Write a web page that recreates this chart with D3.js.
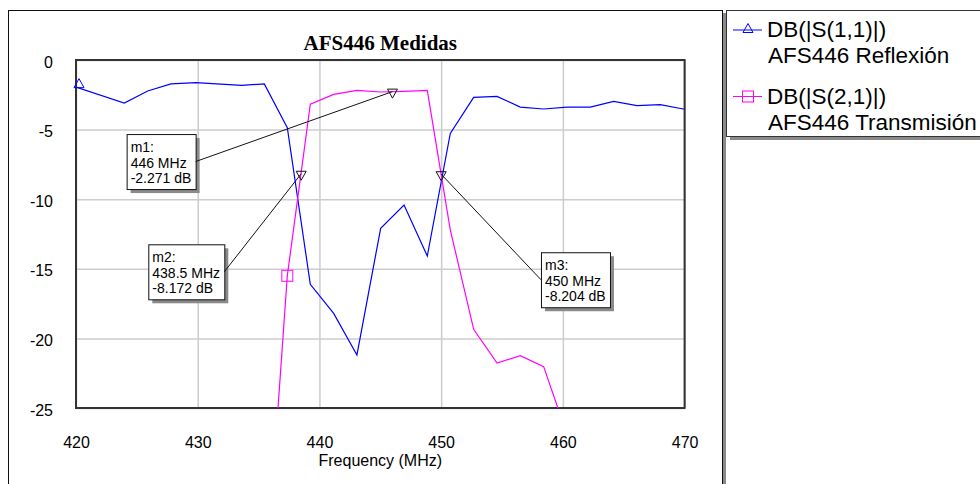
<!DOCTYPE html>
<html>
<head>
<meta charset="utf-8">
<script src="https://cdn.jsdelivr.net/npm/d3@7"></script>
<style>
  body { margin: 0; background: #fff; }
  svg { display: block; font-family: Arial, "Liberation Sans", sans-serif; }
</style>
</head>
<body>
<script>
// S11 (reflexion) trace
const freqS11 = [420.0, 423.97, 425.89, 427.8, 429.86, 433.6, 435.47, 437.36, 439.25, 441.17,
                 443.08, 445.03, 446.95, 448.86, 450.75, 452.67, 454.59, 456.5, 458.42, 460.34,
                 462.25, 464.17, 466.09, 468.0, 470.0];
const dbS11 = [-1.95, -3.09, -2.23, -1.72, -1.63, -1.82, -1.72, -4.86, -16.11, -18.2,
               -21.19, -12.09, -10.42, -14.08, -5.27, -2.68, -2.61, -3.38, -3.52, -3.38,
               -3.38, -2.97, -3.28, -3.21, -3.54];

// S21 (transmision) trace, ends run below the -25 dB floor
const freqS21 = [435.47, 437.36, 439.25, 441.17, 443.08, 445.03, 446.95, 448.86, 450.75, 452.67,
                 454.59, 456.5, 458.42, 460.34];
const dbS21 = [-39, -15.5, -3.18, -2.47, -2.18, -2.3, -2.25, -2.18, -12.2, -19.35,
               -21.77, -21.24, -22.03, -26.9];

const xTicks = [420, 430, 440, 450, 460, 470];
const yTicks = [0, -5, -10, -15, -20, -25];

const markerNames = ['m1', 'm2', 'm3'];
const markerFreq = [446, 438.5, 450];
const markerDb = [-2.271, -8.172, -8.204];

const legendTop = ['DB(|S(1,1)|)', 'DB(|S(2,1)|)'];
const legendBottom = ['AFS446 Reflexión', 'AFS446 Transmisión'];
const title = 'AFS446 Medidas';
const xTitle = 'Frequency (MHz)';

// layout
const W = 980, H = 484;
const plot = { left: 76, right: 684.6, top: 60, bottom: 408 };
const colors = ['#0000ff', '#ff00ff'];
// top-left corner of each marker label box, in data units
const labelAt = [[424.16, -5.32], [425.94, -13.24], [458.2, -13.81]];

const x = d3.scaleLinear().domain([420, 470]).range([plot.left, plot.right]);
const y = d3.scaleLinear().domain([-25, 0]).range([plot.bottom, plot.top]);

const svg = d3.select('body').append('svg')
  .attr('width', W)
  .attr('height', H);

// outer frame with its shadow
svg.append('rect')
  .attr('x', 723).attr('y', 13).attr('width', 3).attr('height', H)
  .attr('fill', '#8a8a8a');
svg.append('rect')
  .attr('x', 8.5).attr('y', 10.5).attr('width', 714).attr('height', H)
  .attr('fill', 'none').attr('stroke', '#111').attr('stroke-width', 1);

// gridlines
svg.append('g')
  .attr('transform', `translate(0, ${plot.bottom})`)
  .call(d3.axisBottom(x).tickValues(xTicks).tickSize(-(plot.bottom - plot.top)).tickFormat(''))
  .call(g => g.select('.domain').remove())
  .call(g => g.selectAll('line').attr('stroke', '#cccccc').attr('stroke-width', 1.5));
svg.append('g')
  .attr('transform', `translate(${plot.left}, 0)`)
  .call(d3.axisLeft(y).tickValues(yTicks).tickSize(-(plot.right - plot.left)).tickFormat(''))
  .call(g => g.select('.domain').remove())
  .call(g => g.selectAll('line').attr('stroke', '#cccccc').attr('stroke-width', 1.5));

// tick labels
svg.append('g')
  .attr('transform', `translate(0, ${plot.bottom + 26})`)
  .call(d3.axisBottom(x).tickValues(xTicks).tickSize(0).tickFormat(d3.format('d')))
  .call(g => g.select('.domain').remove())
  .call(g => g.selectAll('text').attr('font-size', 16).attr('fill', '#000')
    .attr('font-family', 'Arial, "Liberation Sans", sans-serif'));
svg.append('g')
  .attr('transform', `translate(${plot.left - 20}, 2)`)
  .call(d3.axisLeft(y).tickValues(yTicks).tickSize(0).tickFormat(d => d === 0 ? '0' : '-' + Math.abs(d)))
  .call(g => g.select('.domain').remove())
  .call(g => g.selectAll('text').attr('font-size', 16).attr('fill', '#000')
    .attr('font-family', 'Arial, "Liberation Sans", sans-serif'));

// plot border
svg.append('rect')
  .attr('x', plot.left).attr('y', plot.top)
  .attr('width', plot.right - plot.left).attr('height', plot.bottom - plot.top)
  .attr('fill', 'none').attr('stroke', '#333').attr('stroke-width', 2);

// titles
svg.append('text')
  .attr('x', (plot.left + plot.right) / 2).attr('y', 50)
  .attr('text-anchor', 'middle')
  .attr('font-family', '"Liberation Serif", "Times New Roman", serif')
  .attr('font-weight', 'bold').attr('font-size', 21)
  .text(title);
svg.append('text')
  .attr('x', (plot.left + plot.right) / 2).attr('y', 466)
  .attr('text-anchor', 'middle').attr('font-size', 16)
  .text(xTitle);

// traces
svg.append('clipPath').attr('id', 'clip')
  .append('rect')
  .attr('x', plot.left).attr('y', plot.top)
  .attr('width', plot.right - plot.left).attr('height', plot.bottom - plot.top);

const line = d3.line().x(d => x(d[0])).y(d => y(d[1]));
const s11 = freqS11.map((f, i) => [f, dbS11[i]]);
const s21 = freqS21.map((f, i) => [f, dbS21[i]]);

const traces = svg.append('g').attr('clip-path', 'url(#clip)');
traces.append('path').datum(s11)
  .attr('d', line).attr('fill', 'none').attr('stroke', colors[0]).attr('stroke-width', 1.2);
traces.append('path').datum(s21)
  .attr('d', line).attr('fill', 'none').attr('stroke', colors[1]).attr('stroke-width', 1.2);

function triangle(cx, cy, s) {
  return `M${cx},${cy - s * 0.55}L${cx + s / 2},${cy + s * 0.35}L${cx - s / 2},${cy + s * 0.35}Z`;
}
// trace symbols
svg.append('path')
  .attr('d', triangle(x(s11[0][0]) + 3, y(s11[0][1]) - 3, 10))
  .attr('fill', 'none').attr('stroke', colors[0]).attr('stroke-width', 1);
svg.append('rect')
  .attr('x', x(s21[1][0]) - 5.5).attr('y', y(s21[1][1]) - 5.5)
  .attr('width', 11).attr('height', 11)
  .attr('fill', 'none').attr('stroke', colors[1]).attr('stroke-width', 1);

// markers and labels
markerNames.forEach((name, i) => {
  const px = x(markerFreq[i]), py = y(markerDb[i]);
  const bx = x(labelAt[i][0]), by = y(labelAt[i][1]);
  const lines = [name + ':', markerFreq[i] + ' MHz', markerDb[i].toFixed(3) + ' dB'];

  const g = svg.append('g');
  const shadow = g.append('rect').attr('fill', '#8a8a8a');
  const box = g.append('rect').attr('fill', '#fff').attr('stroke', '#111').attr('stroke-width', 1);
  const texts = g.selectAll('text').data(lines).enter().append('text')
    .attr('x', bx + 4).attr('y', (d, k) => by + 18 + k * 15.5)
    .attr('font-size', 14)
    .text(d => d);
  let tw = 0;
  texts.each(function () { tw = Math.max(tw, this.getComputedTextLength()); });
  const bw = Math.round(tw + 8), bh = 55;
  box.attr('x', bx + 0.5).attr('y', by + 0.5).attr('width', bw).attr('height', bh);
  shadow.attr('x', bx + 4).attr('y', by + 4).attr('width', bw).attr('height', bh);

  const lx = px > bx + bw ? bx + bw : bx;
  svg.append('line')
    .attr('x1', lx).attr('y1', by + bh / 2)
    .attr('x2', px).attr('y2', py)
    .attr('stroke', '#111').attr('stroke-width', 1);
  svg.append('path')
    .attr('d', `M${px - 5},${py - 2.5}L${px + 5},${py - 2.5}L${px},${py + 6.5}Z`)
    .attr('fill', 'none').attr('stroke', '#111').attr('stroke-width', 1);
});

// legend
svg.append('rect')
  .attr('x', 730).attr('y', 137).attr('width', 300).attr('height', 3)
  .attr('fill', '#8a8a8a');
svg.append('rect')
  .attr('x', 726.5).attr('y', 10.5).attr('width', 300).attr('height', 126)
  .attr('fill', '#fff').attr('stroke', '#333').attr('stroke-width', 1);

legendTop.forEach((label, i) => {
  const ly = 30 + i * 66.5;
  svg.append('line')
    .attr('x1', 733).attr('x2', 762).attr('y1', ly).attr('y2', ly)
    .attr('stroke', colors[i]).attr('stroke-width', 1);
  if (i === 0) {
    svg.append('path').attr('d', triangle(748, ly - 1, 10))
      .attr('fill', 'none').attr('stroke', colors[i]);
  } else {
    svg.append('rect').attr('x', 742.5).attr('y', ly - 5.5).attr('width', 11).attr('height', 11)
      .attr('fill', 'none').attr('stroke', colors[i]);
  }
  svg.append('text').attr('x', 767).attr('y', ly + 7).attr('font-size', 22.5).text(label);
  svg.append('text').attr('x', 768).attr('y', ly + 33).attr('font-size', 22.5).text(legendBottom[i]);
});
</script>
</body>
</html>
